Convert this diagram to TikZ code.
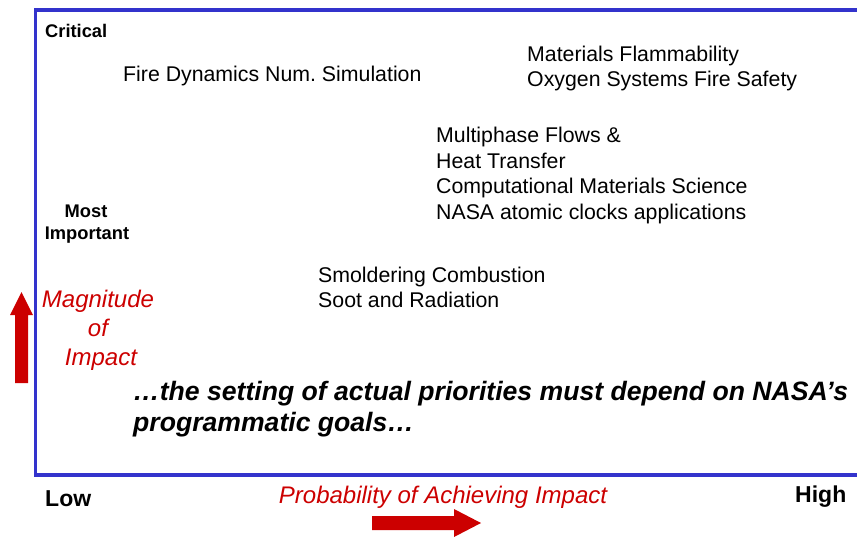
\documentclass[tikz,border=0pt]{standalone}
\usepackage{fontspec}
\setmainfont{Liberation Sans}
\frenchspacing
\definecolor{frameblue}{RGB}{51,51,204}
\definecolor{impred}{RGB}{204,0,0}
\begin{document}
\begin{tikzpicture}[x=1pt,y=-1pt,
  item/.style={anchor=base west,inner sep=0pt,font=\fontsize{21.3}{25.6}\selectfont},
  level/.style={anchor=base,inner sep=0pt,font=\fontsize{18.3}{22}\selectfont\bfseries},
  axisend/.style={anchor=base west,inner sep=0pt,font=\fontsize{23}{27}\selectfont\bfseries},
  redlabel/.style={anchor=base,inner sep=0pt,text=impred,font=\fontsize{24}{29}\selectfont\itshape},
  note/.style={anchor=base west,inner sep=0pt,font=\fontsize{26.6}{31}\selectfont\bfseries\itshape},
  bigarrow/.style={fill=impred,draw=none}]
\useasboundingbox (0,0) rectangle (857,536);
\begin{scope}
\clip (0,0) rectangle (857,536);
\draw[frameblue,line width=3.5pt] (35.5,10) rectangle (880,475);
\end{scope}
% level labels
\node[level,anchor=base west] (crit) at (45,37) {Critical};
\node[level] (most) at (86,217) {Most};
\node[level] (imp) at (87,239) {Important};
% items
\node[item] (fire) at (123,81) {Fire Dynamics Num. Simulation};
\node[item] (mat) at (527,61) {Materials Flammability};
\node[item] (oxy) at (527,86) {Oxygen Systems Fire Safety};
\node[item] (multi) at (436,142) {Multiphase Flows \&};
\node[item] (heat) at (436,168) {Heat Transfer};
\node[item] (comp) at (436,193) {Computational Materials Science};
\node[item] (nasa) at (436,219) {NASA atomic clocks applications};
\node[item] (smol) at (318,282) {Smoldering Combustion};
\node[item] (soot) at (318,307) {Soot and Radiation};
% vertical axis label
\node[redlabel] (mag) at (98,307) {Magnitude};
\node[redlabel] (of) at (98,336) {of};
\node[redlabel] (impact) at (101,365) {Impact};
% note
\node[note] (note1) at (133,400) {\char"2026 the setting of actual priorities must depend on NASA\char"2019 s};
\node[note] (note2) at (133,431) {programmatic goals\char"2026};
% axis ends
\node[axisend] (low) at (45,506) {Low};
\node[axisend] (high) at (795,502) {High};
\node[redlabel] (prob) at (443,503) {Probability of Achieving Impact};
% arrows
\fill[bigarrow] (15,383) -- (15,315) -- (10,315) -- (21.5,292) -- (33,315) -- (28,315) -- (28,383) -- cycle;
\fill[bigarrow] (372,516) -- (454,516) -- (454,509) -- (481,523) -- (454,537) -- (454,530) -- (372,530) -- cycle;
\end{tikzpicture}
\end{document}
